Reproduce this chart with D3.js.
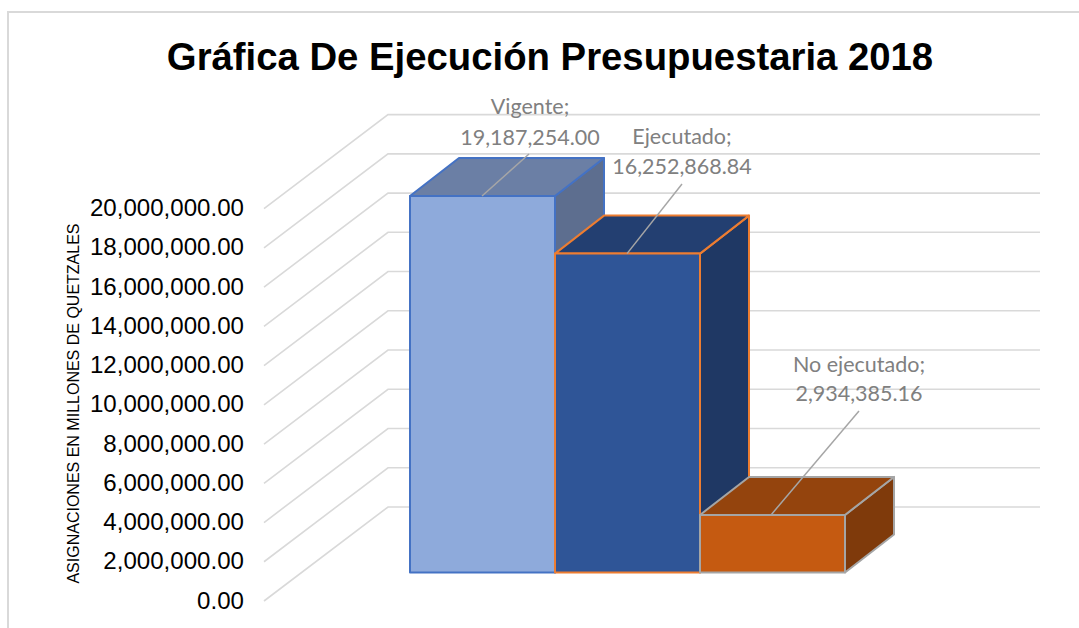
<!DOCTYPE html>
<html><head><meta charset="utf-8">
<script src="https://cdnjs.cloudflare.com/ajax/libs/d3/7.8.5/d3.min.js"></script>
<style>html,body{margin:0;padding:0;background:#fff}svg{display:block}</style>
</head><body><svg id="c" width="1079" height="628"></svg>
<script>
const categories=["Vigente","Ejecutado","No ejecutado"];
const values=[19187254.00,16252868.84,2934385.16];
const valueLabels=["19,187,254.00","16,252,868.84","2,934,385.16"];
const tickValues=[0,2e6,4e6,6e6,8e6,10e6,12e6,14e6,16e6,18e6,20e6];
const frontColors=["#8eaadb","#2f5597","#c55a11"];
const topColors=["#6b7fa5","#233f71","#94440d"];
const sideColors=["#5d6e8f","#1f3864","#7f3a0b"];
const strokeColors=["#4472c4","#ed7d31","#a5a5a5"];

const svg=d3.select("#c");
const y=d3.scaleLinear().domain([0,20e6]).range([601,208.6]);
const x=d3.scaleBand().domain(categories).range([410,845]).padding(0);
const baseY=572.5, dx=49, dy=38, gx0=264, gx1=388, gx2=1040, gdy=94;
const h=v=>y(0)-y(v);

const labelX=[530,682,859];
const labelY1=[114,144,372];
const labelY2=[145,174,401];
const leaderTop=[[529,154],[682,184],[859,411]];
const leaderFoot=[482,627,771];

svg.append("path").attr("d","M8,628V12H1079").attr("fill","none").attr("stroke","#d9d9d9").attr("stroke-width",2);

svg.append("g").selectAll("path").data(tickValues).join("path")
 .attr("d",d=>`M${gx0},${y(d)}L${gx1},${y(d)-gdy}H${gx2}`)
 .attr("fill","none").attr("stroke","#d9d9d9").attr("stroke-width",1.6);

svg.append("g").selectAll("text").data(tickValues).join("text")
 .attr("x",244).attr("y",d=>y(d)+7.5).attr("text-anchor","end")
 .attr("font-family","Liberation Sans").attr("font-size",24.1).attr("fill","#000")
 .text(d=>d3.format(",.2f")(d));

svg.append("text").attr("transform","translate(78.5,403.5) rotate(-90)").attr("text-anchor","middle")
 .attr("font-family","Liberation Sans").attr("font-size",16).attr("fill","#000")
 .text("ASIGNACIONES EN MILLONES DE QUETZALES");

svg.append("text").attr("x",550).attr("y",70).attr("text-anchor","middle")
 .attr("font-family","Liberation Sans").attr("font-weight","bold").attr("font-size",38.3).attr("fill","#000")
 .text("Gráfica De Ejecución Presupuestaria 2018");

const bars=svg.append("g").selectAll("g").data(categories).join("g");
bars.each(function(c,i){
 const g=d3.select(this), l=x(c), r=l+x.bandwidth(), t=baseY-h(values[i]), b=baseY;
 const add=(d,f)=>g.append("path").attr("d",d).attr("fill",f)
   .attr("stroke",strokeColors[i]).attr("stroke-width",2).attr("stroke-linejoin","round");
 add(`M${r},${t}L${r+dx},${t-dy}V${b-dy}L${r},${b}Z`,sideColors[i]);
 add(`M${l},${t}L${l+dx},${t-dy}H${r+dx}L${r},${t}Z`,topColors[i]);
 add(`M${l},${t}H${r}V${b}H${l}Z`,frontColors[i]);
});

const lab=svg.append("g").selectAll("g").data(categories).join("g");
lab.append("path")
 .attr("d",(c,i)=>`M${leaderTop[i][0]},${leaderTop[i][1]}L${leaderFoot[i]},${baseY-h(values[i])}`)
 .attr("stroke","#a6a6a6").attr("stroke-width",1.5).attr("fill","none");
lab.append("text").attr("x",(c,i)=>labelX[i]).attr("y",(c,i)=>labelY1[i]).attr("text-anchor","middle")
 .attr("font-family","Lato").attr("font-size",21.5).attr("fill","#808080").text(c=>c+";");
lab.append("text").attr("x",(c,i)=>labelX[i]).attr("y",(c,i)=>labelY2[i]).attr("text-anchor","middle")
 .attr("font-family","Lato").attr("font-size",21.5).attr("fill","#808080").text((c,i)=>valueLabels[i]);
</script></body></html>
